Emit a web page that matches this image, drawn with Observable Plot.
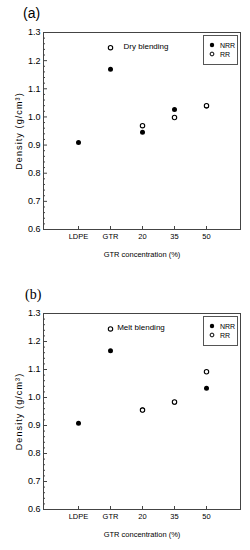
<!DOCTYPE html>
<html><head><meta charset="utf-8">
<script src="https://cdn.jsdelivr.net/npm/d3@7"></script>
<script src="https://cdn.jsdelivr.net/npm/@observablehq/plot@0.6"></script>
<style>
body{margin:0;background:#fff;width:250px;height:550px;position:relative;overflow:hidden;font-family:"Liberation Sans Narrow","Liberation Sans",sans-serif;}
.panel{position:absolute;left:0;}
.plabel{position:absolute;font-size:14px;color:#000;line-height:16px;}
.legend{position:absolute;}
g[aria-label="y-axis label"] text{letter-spacing:1.1px;}
</style></head><body>
<script>
const categories = ["LDPE", "GTR", "20", "35", "50"];
const yTicks = [0.6, 0.7, 0.8, 0.9, 1.0, 1.1, 1.2, 1.3];
const yMinorTicks = [0.62,0.64,0.66,0.68,0.72,0.74,0.76,0.78,0.82,0.84,0.86,0.88,0.92,0.94,0.96,0.98,1.02,1.04,1.06,1.08,1.12,1.14,1.16,1.18,1.22,1.24,1.26,1.28];
const dryNRR = [0.909, 1.169, 0.946, 1.026, 1.039];
const dryRR  = [null, 1.246, 0.969, 0.998, 1.040];
const meltNRR = [0.908, 1.167, 0.955, 0.983, 1.033];
const meltRR  = [null, 1.245, 0.955, 0.984, 1.092];
const seriesNames = ["NRR", "RR"];
const panels = [
  {tag:"(a)", note:"Dry blending", nrr:dryNRR, rr:dryRR, top:0, height:275, mb:46, noteDx:4, tagFont:'"Liberation Sans Narrow","Liberation Sans",sans-serif', tagTop:5, tagLeft:23},
  {tag:"(b)", note:"Melt blending", nrr:meltNRR, rr:meltRR, top:281, height:269, mb:41, noteDx:-1, tagFont:'"Liberation Serif",serif', tagTop:6, tagLeft:25}
];
const font = '"Liberation Sans Narrow","Liberation Sans",sans-serif';

for (const p of panels) {
  const toRows = (vals, s) => vals.map((v,i)=>({cat:categories[i], value:v, series:s})).filter(d=>d.value!=null);
  const nrr = toRows(p.nrr, "NRR"), rr = toRows(p.rr, "RR");
  const chart = Plot.plot({
    width: 250, height: p.height,
    marginTop: 32, marginBottom: p.mb, marginLeft: 43, marginRight: 10,
    style: {fontFamily: font, fontSize: "7px", color: "#000", background: "#fff"},
    x: {type: "point", domain: categories, padding: 1, label: null},
    y: {domain: [0.6, 1.3], label: null},
    marks: [
      Plot.frame({stroke: "#444"}),
      Plot.axisY({ticks: yTicks, tickSize: 0, tickPadding: 3, tickFormat: d3.format(".1f"), label: "Density (g/cm³)", labelAnchor: "center", labelArrow: "none", labelOffset: 28, fontSize: 9}),
      Plot.axisY({ticks: yTicks, tickSize: -4, text: null, label: null, stroke: "#444"}),
      Plot.axisY({ticks: yMinorTicks, tickSize: -2, text: null, label: null, stroke: "#444"}),
      Plot.axisX({tickSize: 0, tickPadding: 4, label: "GTR concentration (%)", labelAnchor: "center", labelArrow: "none", labelOffset: 27, fontSize: 7.5}),
      Plot.axisX({tickSize: -3, text: null, label: null, stroke: "#444"}),
      Plot.text([p.note], {text: d => d, frameAnchor: "top", dx: p.noteDx, dy: 11, fontSize: 8, fill: "#000"}),
      Plot.dot(nrr, {x: "cat", y: "value", r: 2.5, fill: "#000"}),
      Plot.dot(rr, {x: "cat", y: "value", r: 2.2, fill: "#fff", stroke: "#000", strokeWidth: 1.1})
    ]
  });
  const wrap = document.createElement("div");
  wrap.className = "panel";
  wrap.style.top = p.top + "px";
  wrap.appendChild(chart);
  document.body.appendChild(wrap);

  const tag = document.createElement("div");
  tag.className = "plabel";
  tag.textContent = p.tag;
  tag.style.top = (p.top + p.tagTop) + "px";
  tag.style.left = p.tagLeft + "px";
  tag.style.fontFamily = p.tagFont;
  document.body.appendChild(tag);

  const lg = document.createElement("div");
  lg.className = "legend";
  lg.style.left = "203px";
  lg.style.top = (p.top + 35) + "px";
  const rows = seriesNames.map((s, i) =>
    `<circle cx="9" cy="${10 + i * 9}" r="${s==="NRR"?2.2:1.9}" fill="${s==="NRR"?"#000":"#fff"}" stroke="#000" stroke-width="${s==="NRR"?0:1}"/>` +
    `<text x="17" y="${12.5 + i * 9}" font-size="7" font-family='${font}' fill="#000">${s}</text>`).join("");
  lg.innerHTML = `<svg width="35" height="30"><rect x="0.5" y="0.5" width="34" height="29" fill="#fff" stroke="#555"/>${rows}</svg>`;
  document.body.appendChild(lg);
}
</script>
</body></html>
